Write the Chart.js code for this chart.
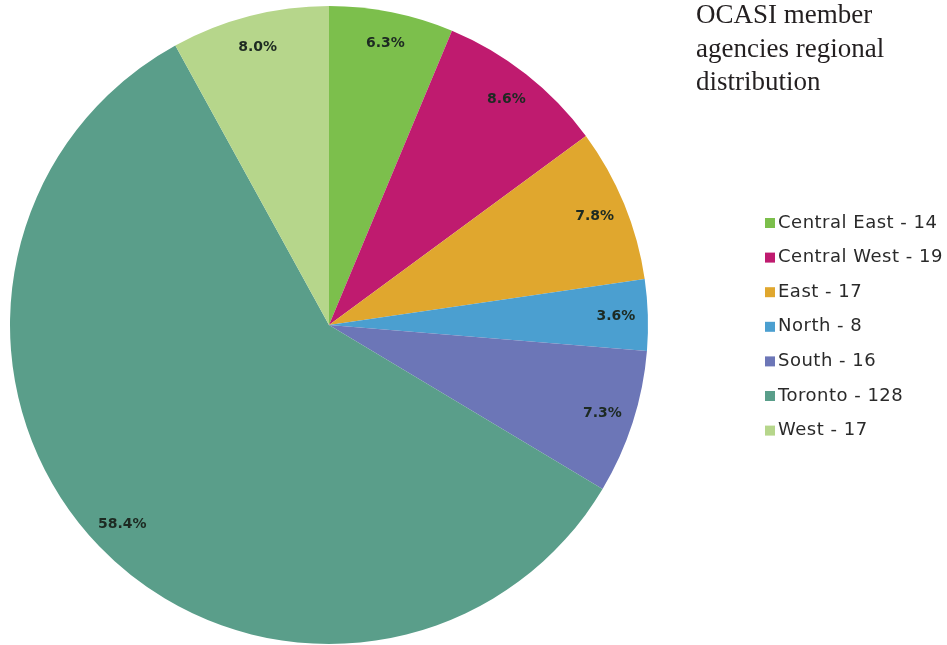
<!DOCTYPE html>
<html>
<head>
<meta charset="utf-8">
<script src="https://cdn.jsdelivr.net/npm/chart.js@4"></script>
<style>
  html, body { margin: 0; padding: 0; background: #fff; }
  #wrap { position: relative; width: 947px; height: 645px; }
  #title {
    position: absolute; left: 696px; top: -2px; width: 240px;
    font-family: "Liberation Serif", serif; font-size: 27px; line-height: 33.5px; color: #231f20;
  }
</style>
</head>
<body>
<div id="wrap">
  <canvas id="pie" width="947" height="645"></canvas>
  <div id="title">OCASI member<br>agencies regional<br>distribution</div>
</div>
<script>
// Regions and numbers
const regions = ['Central East', 'Central West', 'East', 'North', 'South', 'Toronto', 'West'];
const counts = [14, 19, 17, 8, 16, 128, 17];
const shares = [6.3, 8.6, 7.8, 3.6, 7.3, 58.4, 8.0];
const colors = ['#7cbf4c', '#bf1b6f', '#e0a72e', '#4b9fd0', '#6c76b7', '#5a9e8a', '#b6d68b'];

// Percent labels inside each slice
const sliceLabels = {
    id: 'sliceLabels',
    afterDatasetsDraw(chart) {
        const ctx = chart.ctx;
        const arcs = chart.getDatasetMeta(0).data;
        ctx.save();
        ctx.font = 'bold 14px "DejaVu Sans"';
        ctx.fillStyle = '#1d2a22';
        ctx.textAlign = 'center';
        ctx.textBaseline = 'middle';
        arcs.forEach((arc, i) => {
            const mid = (arc.startAngle + arc.endAngle) / 2;
            const r = arc.outerRadius * 0.9;
            ctx.fillText(shares[i].toFixed(1) + '%', arc.x + Math.cos(mid) * r, arc.y + Math.sin(mid) * r);
        });
        ctx.restore();
    }
};

// Legend on the right
const sideLegend = {
    id: 'sideLegend',
    afterDraw(chart) {
        const ctx = chart.ctx;
        ctx.save();
        ctx.font = '18px "DejaVu Sans"';
        ctx.letterSpacing = '0.5px';
        ctx.textBaseline = 'middle';
        regions.forEach((name, i) => {
            const y = 223 + i * 34.6;
            ctx.fillStyle = colors[i];
            ctx.fillRect(765, y - 5, 10, 10);
            ctx.fillStyle = '#2a2a2a';
            ctx.fillText(name + ' - ' + counts[i], 778, y);
        });
        ctx.restore();
    }
};

new Chart(document.getElementById('pie'), {
    type: 'pie',
    data: {
        labels: regions,
        datasets: [{
            data: shares,
            backgroundColor: colors,
            borderWidth: 0
        }]
    },
    options: {
        responsive: false,
        animation: false,
        layout: { padding: { left: 10, right: 299, top: 6, bottom: 1 } },
        plugins: {
            legend: { display: false },
            tooltip: { enabled: false }
        }
    },
    plugins: [sliceLabels, sideLegend]
});
</script>
</body>
</html>
